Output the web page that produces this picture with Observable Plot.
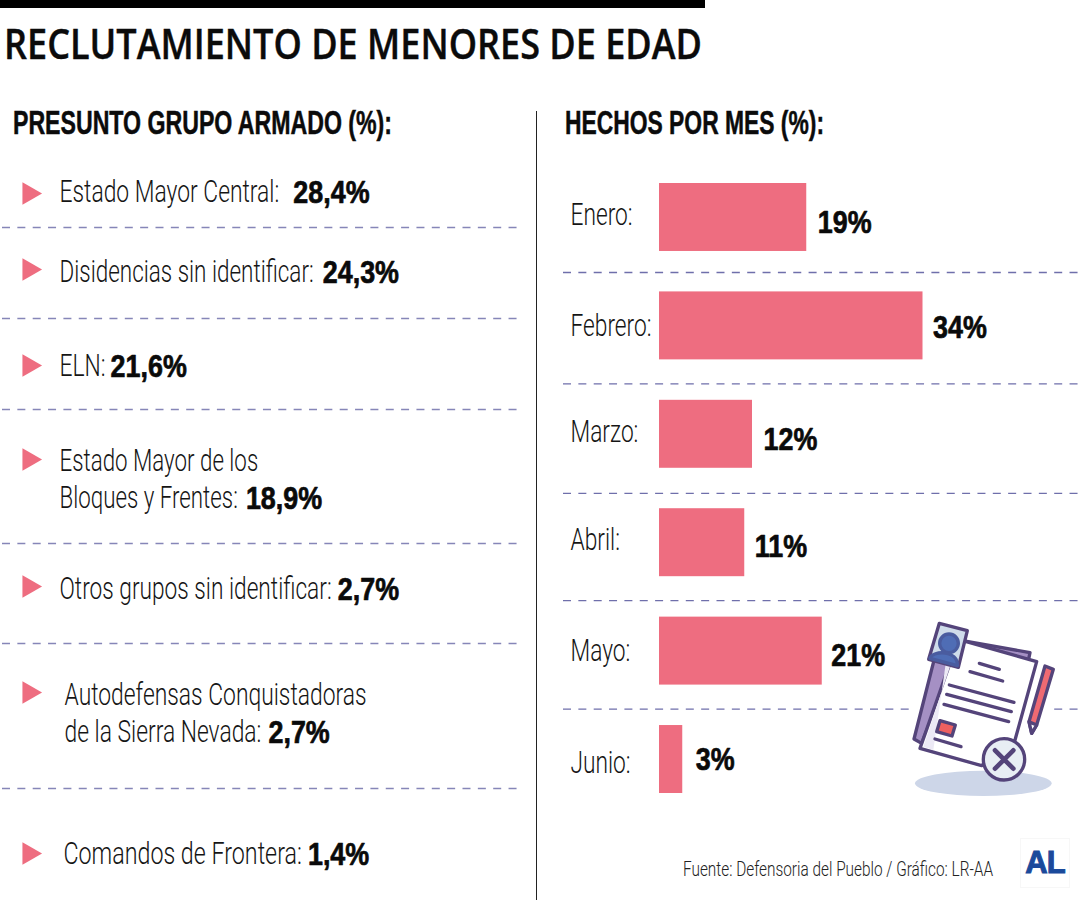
<!DOCTYPE html>
<html lang="es">
<head>
<meta charset="utf-8">
<script src="https://cdn.jsdelivr.net/npm/d3@7"></script>
<script src="https://cdn.jsdelivr.net/npm/@observablehq/plot@0.6"></script>
<style>
html,body{margin:0;padding:0;background:#fff;}
#page{position:relative;width:1080px;height:900px;overflow:hidden;background:#fff;color:#0b0b0b;}
#page>*{position:absolute;}
.fit{white-space:nowrap;transform-origin:0 50%;line-height:1;margin:0;}
#topbar{left:0;top:0;width:705px;height:7.5px;background:#000;}
#title{left:4px;top:15px;font:600 41px "Open Sans",sans-serif;-webkit-text-stroke:.4px #0b0b0b;}
.head{top:104px;font:700 33px "Liberation Sans",sans-serif;-webkit-text-stroke:.5px #0b0b0b;}
#h1{left:13px;} #h2{left:565px;}
#divider{left:536px;top:111px;width:1.2px;height:789px;background:#222;}
#leftChart{left:0;top:150px;} #rightChart{left:537px;top:150px;}
#source{left:683px;top:857px;font:300 21px Roboto,sans-serif;color:#222;}
#logo{left:1020px;top:838px;width:50px;height:50px;box-sizing:border-box;border:1px solid #f7f7f7;
 display:flex;align-items:center;justify-content:center;font:900 31px "Liberation Sans",sans-serif;color:#1b4a9b;letter-spacing:-1px;-webkit-text-stroke:1px #1b4a9b;}
#icon{left:880px;top:600px;}
svg{background:transparent;}
</style>
</head>
<body>
<div id="page">
  <div id="topbar"></div>
  <h1 id="title" class="fit" data-w="698">RECLUTAMIENTO DE MENORES DE EDAD</h1>
  <div id="h1" class="fit head" data-w="379">PRESUNTO GRUPO ARMADO (%):</div>
  <div id="h2" class="fit head" data-w="259">HECHOS POR MES (%):</div>
  <div id="divider"></div>
  <div id="leftChart"></div>
  <div id="rightChart"></div>
  <div id="source" class="fit" data-w="310">Fuente: Defensoria del Pueblo / Gráfico: LR-AA</div>
  <div id="logo">AL</div>
  <svg id="icon" width="200" height="300" viewBox="0 0 600 900" fill="none" stroke="#54447a" stroke-width="10" stroke-linejoin="round" stroke-linecap="round">
    <rect x="96" y="300" width="420" height="46" fill="#fff" stroke="none"/>
    <ellipse cx="310" cy="550" rx="205" ry="38" fill="#cdd6e8" stroke="none"/>
    <path d="M180 110L450 158L445 182L235 150L125 430L102 417Z" fill="#a590c4"/>
    <path d="M235 118L470 185L405 420L305 497L120 445Z" fill="#fff"/>
    <path d="M200 170L235 125L130 440L160 450Z" fill="#ece9f5" stroke="none"/>
    <path d="M178 70L262 92L235 202L146 178Z" fill="#cfdcea"/>
    <circle cx="207" cy="130" r="28" fill="#4f6db5" stroke="#4a5c9f"/>
    <path d="M150 175C158 150 235 150 232 197Z" fill="#4f6db5" stroke="#4a5c9f"/>
    <path d="M298 190L358 208M270 215L368 243M208 255L402 307M200 283L394 335M192 313L386 365M165 417L243 440"/>
    <path d="M180 362L226 375L216 408L170 395Z" fill="#ef6060"/>
    <circle cx="372" cy="478" r="62" fill="#e8eef4"/>
    <path d="M345 451L400 506M400 451L345 506" stroke-width="14"/>
    <path d="M495 198L520 208L470 375L455 400L447 365Z" fill="#ef6a72"/>
    <path d="M447 365L470 375L455 400Z" fill="#fff"/>
  </svg>
</div>
<script>
// ---- data ----
const groupLines = [
  ["Estado Mayor Central:"],
  ["Disidencias sin identificar:"],
  ["ELN:"],
  ["Estado Mayor de los", "Bloques y Frentes:"],
  ["Otros grupos sin identificar:"],
  ["Autodefensas Conquistadoras", "de la Sierra Nevada:"],
  ["Comandos de Frontera:"]
];
const groupValues = [28.4, 24.3, 21.6, 18.9, 2.7, 2.7, 1.4];
const months = ["Enero", "Febrero", "Marzo", "Abril", "Mayo", "Junio"];
const monthValues = [19, 34, 12, 11, 21, 3];

// ---- layout (page pixels) ----
const TOP = 150;
const PINK = "#ee6d80";
const LIGHT = "Roboto, sans-serif";
const BOLD = '"Liberation Sans",sans-serif';
const RIGHT_K = 0.71, BOLD_K = 0.84;
const rowK = [0.737, 0.725, 0.737, 0.72, 0.732, 0.737, 0.75];
const rowCenters = [193, 269, 365, 459, 586, 692, 853];
const separators = [227, 318, 409, 543, 643, 788];
const textDy = [-1, 3, 1, 2, 3, 3, 1];
const textX = [59, 59, 59, 59, 59, 64, 63];
const valueGap = [14, 9, 5, 8, 6, 7, 6];
const LINE = 37;

const ctx = document.createElement("canvas").getContext("2d");
function measure(s, font) { ctx.font = font; return ctx.measureText(s).width; }

const rowDomain = [], rowRange = [];
rowCenters.forEach((c, i) => {
  rowDomain.push(i); rowRange.push(c - TOP);
  if (i < separators.length) { rowDomain.push(i + 0.5); rowRange.push(separators[i] - TOP); }
});

const fmt = v => v.toFixed(1).replace(".", ",") + "%";
const LEFT_FS = 31, VAL_FS = 32;
const boldStyle = {textAnchor: "start", fontFamily: BOLD, fontWeight: 700, fontSize: VAL_FS, fill: "#0a0a0a", stroke: "#0a0a0a", strokeWidth: 0.7};

const leftMarks = [
  Plot.ruleY(separators.map((_, i) => i + 0.5), {y: d => d, stroke: "#8686b8", strokeWidth: 1.3, strokeDasharray: "8,7.35"}),
  Plot.dot(groupValues.map((v, i) => ({i})), {x: () => 28.5, y: "i", symbol: "triangle", rotate: 90, r: 8.4, fill: PINK, stroke: "none"})
];
groupLines.forEach((lines, i) => {
  lines.forEach((line, j) => {
    leftMarks.push(Plot.text([line], {
      x: () => textX[i], y: () => i, text: d => d, dy: textDy[i] + j * LINE,
      textAnchor: "start", fontFamily: LIGHT, fontWeight: 300, fontSize: LEFT_FS, fill: "#151515",
      ariaDescription: "k" + rowK[i]
    }));
  });
  const last = lines[lines.length - 1];
  const lw = measure(last, `300 ${LEFT_FS}px Roboto`) * rowK[i];
  leftMarks.push(Plot.text([groupValues[i]], {
    x: () => textX[i] + lw + valueGap[i], y: () => i, text: fmt, dy: textDy[i] + (lines.length - 1) * LINE,
    ...boldStyle
  }));
});

const leftPlot = Plot.plot({
  width: 536, height: 750, marginLeft: 2, marginRight: 16, marginTop: 0, marginBottom: 0,
  style: {background: "transparent", overflow: "visible"},
  x: {type: "identity", axis: null},
  y: {type: "linear", domain: rowDomain, range: rowRange, axis: null},
  marks: leftMarks
});
document.getElementById("leftChart").append(leftPlot);

// right panel
const rows = months.map((m, i) => ({month: m, value: monthValues[i]}));
const monthDy = [-3, 0, -3, -3, 0, 3];
const valueDy = [5, 2, 5, 4, 5, 0];
const valueDx = [11, 10, 11, 10, 9, 13];
const sepDy = [55, 58, 59, 58, 58];

const rightMarks = [
  Plot.barX(rows, {x: "value", y: "month", fill: PINK})
];
rows.slice(0, 5).forEach((r, i) => rightMarks.push(
  Plot.ruleY([r.month], {dy: sepDy[i], stroke: "#6f6fab", strokeWidth: 1.3, strokeDasharray: "8,7.35"})
));
rows.forEach((r, i) => {
  rightMarks.push(Plot.text([r], {
    y: "month", frameAnchor: "left", dx: 7, dy: monthDy[i], text: d => d.month + ":",
    textAnchor: "start", fontFamily: LIGHT, fontWeight: 300, fontSize: 32, fill: "#151515",
    ariaDescription: "k" + RIGHT_K
  }));
  rightMarks.push(Plot.text([r], {
    x: "value", y: "month", dx: valueDx[i], dy: valueDy[i], text: d => d.value + "%",
    ...boldStyle
  }));
});
const rightPlot = Plot.plot({
  width: 543, height: 750, marginLeft: 26, marginRight: 0, marginTop: 0, marginBottom: 0,
  style: {background: "transparent", overflow: "visible"},
  x: {domain: [0, 34], range: [122, 385.5], axis: null},
  y: {type: "band", domain: months, range: [183 - TOP, 793 - TOP], paddingInner: 0.373, paddingOuter: 0, round: false, axis: null},
  marks: rightMarks
});
document.getElementById("rightChart").append(rightPlot);

// condense the text the way the reference's condensed face does
function squeeze(svg) {
  svg.querySelectorAll("g[aria-description], g").forEach(g => {
    if (!g.querySelector(":scope > text")) return;
    const desc = g.getAttribute("aria-description");
    const k = desc && desc[0] === "k" ? +desc.slice(1) : BOLD_K;
    g.removeAttribute("aria-description");
    g.querySelectorAll(":scope > text").forEach(t => {
      const x = +t.getAttribute("x") || 0, y = +t.getAttribute("y") || 0;
      const base = t.getAttribute("transform") || "";
      t.setAttribute("transform", `${base} translate(${x},${y}) scale(${k},1) translate(${-x},${-y})`);
    });
  });
}
squeeze(leftPlot); squeeze(rightPlot);

document.querySelectorAll(".fit").forEach(el => {
  el.style.display = "inline-block";
  const w = el.getBoundingClientRect().width;
  el.style.transform = `scaleX(${+el.dataset.w / w})`;
});
</script>
</body>
</html>
